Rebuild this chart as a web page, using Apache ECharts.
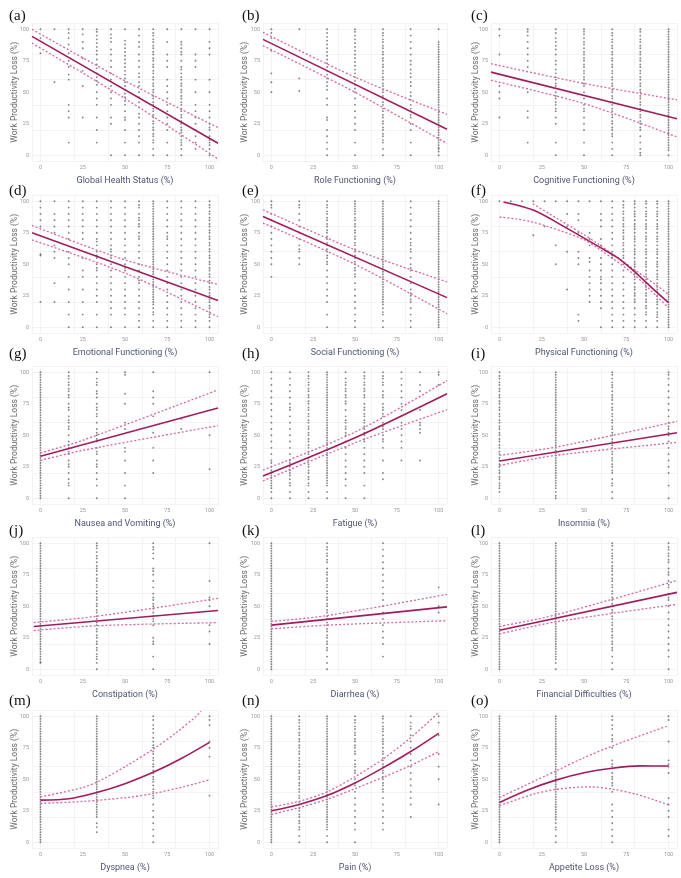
<!DOCTYPE html>
<html><head><meta charset="utf-8">
<script src="https://cdn.jsdelivr.net/npm/echarts@6/dist/echarts.min.js"></script>
<style>html,body{margin:0;padding:0;background:#fff}#c{width:681px;height:878px}</style>
</head><body><div id="c"></div>
<script>
const yTickValues = [0, 25, 50, 75, 100];
const minorTickValues = [-2.5, 12.5, 37.5, 62.5, 87.5, 102.5];
const panelLabels = ['(a)','(b)','(c)','(d)','(e)','(f)','(g)','(h)','(i)','(j)','(k)','(l)','(m)','(n)','(o)'];
const xNames = ['Global Health Status (%)','Role Functioning (%)','Cognitive Functioning (%)',
  'Emotional Functioning (%)','Social Functioning (%)','Physical Functioning (%)',
  'Nausea and Vomiting (%)','Fatigue (%)','Insomnia (%)',
  'Constipation (%)','Diarrhea (%)','Financial Difficulties (%)',
  'Dyspnea (%)','Pain (%)','Appetite Loss (%)'];
const yName = 'Work Productivity Loss (%)';

// scatter: [x level, [y values]]
const ptsA = [[0,[100,93,81]],[8.3,[100,58]],[16.7,[100,97,93,88,81,75,70,64,60,40,35,30,10]],[25,[100,96,90,85,77,67,55,30]],
 [33.3,[100,98,95,92,89,86,83,80,76,72,69,65,62,59,56,50,45,40,30,20,10]],[41.7,[100,96,93,90,84,80,75,70,65,60,55,50,45,40,30,25,0]],
 [50,[100,91,88,85,82,79,76,73,70,67,64,61,58,55,52,49,46,43,40,35,30,28,20,10,0]],[58.3,[100,95,90,86,80,75,70,65,62,58,55,50,46,42,38,33,30,25,20,15,10,0]],
 [66.7,[100,97,95,92,90,87,85,82,80,77,75,72,70,67,65,62,60,57,55,52,50,47,45,42,40,37,35,32,30,27,25,22,20,17,15,12,10,5,0]],
 [75,[100,90,80,75,70,60,55,50,45,40,35,30,25,20,10,0]],
 [83.3,[100,90,88,85,82,80,75,70,68,65,62,60,57,55,52,50,47,45,42,40,37,35,32,30,27,25,22,20,18,15,12,10,8,5,0]],
 [91.7,[100,80,75,70,60,50,40,35,30,25,20,15,10,5]],[100,[100,90,85,80,60,50,40,35,30,25,22,20,15,12,10,8,5,0]]];
const ptsB = [[0,[100,97,93,83,65,58,50]],[16.7,[100,61,51]],
 [33.3,[100,97,94,91,88,85,82,79,76,73,70,67,64,61,58,55,52,45,40,30,28,20,15,10,5,0]],
 [50,[100,98,95,92,89,86,83,80,77,74,71,68,65,62,59,56,53,50,45,40,35,30,25,20,10,0]],
 [66.7,[100,97,95,92,90,87,85,82,80,77,75,72,70,67,65,62,60,57,55,52,50,47,45,42,40,37,35,32,30,27,25,22,20,17,15,12,10,5,0]],
 [83.3,[100,95,90,85,80,75,72,68,65,62,58,55,50,47,44,40,37,35,32,30,25,20,10,0]],
 [100,[100,90,88,86,84,82,80,78,76,74,72,70,68,66,64,62,60,58,56,54,52,50,48,46,44,42,40,38,36,34,32,30,28,26,24,22,20,18,16,14,12,10,8,6,5,3,0]]];
const ptsC = [[0,[100,95,80,55,50,45,30]],[16.7,[100,98,95,90,85,80,75,70,50,35,30,10]],
 [33.3,[100,97,93,90,87,84,80,75,72,68,65,62,60,57,55,50,47,45,42,40,37,35,30,25,10,0]],
 [50,[100,98,96,93,90,88,85,82,80,77,75,72,70,67,65,62,60,57,55,50,45,40,37,35,30,25,20,10,0]],
 [66.7,[100,97,95,92,90,87,85,82,80,77,75,72,70,67,65,62,60,57,55,52,50,47,45,42,40,37,35,32,30,27,25,22,20,17,15,10,5,0]],
 [83.3,[100,98,95,92,90,87,85,82,80,77,75,72,70,67,65,62,60,57,55,52,50,47,45,42,40,37,35,32,30,27,25,22,20,15,10,5,2,0]],
 [100,[100,98,96,94,92,90,88,86,84,82,80,78,76,74,72,70,68,66,64,62,60,58,56,54,52,50,48,46,44,42,40,38,36,34,32,30,28,26,24,22,20,18,16,14,12,10,8,6,4,0]]];
const ptsD = [[0,[100,95,90,85,80,58,57,20]],[8.3,[100,90,85,80,75,65,60,55,35,20]],[16.7,[100,95,90,85,80,75,70,60,55,50,40,30,20,10,0]],
 [25,[100,95,90,85,80,75,70,55,45,40,30,20,10,0]],[33.3,[100,95,90,85,80,75,70,68,65,60,57,55,50,47,45,40,35,30,25,20,10,0]],
 [41.7,[100,95,90,85,80,75,70,65,62,60,57,55,50,45,40,35,30,25,20,15,10,0]],[50,[100,95,90,85,80,75,70,65,60,55,50,47,45,40,35,30,25,20,15,10,0]],
 [58.3,[100,97,95,90,87,85,82,80,75,72,70,65,60,55,50,45,40,37,35,30,25,20,15,10,5,0]],
 [66.7,[100,98,96,94,92,90,88,86,84,82,80,78,76,74,72,70,68,66,64,62,60,58,56,54,52,50,48,46,44,42,40,38,36,34,32,30,28,26,24,22,20,18,15,12,10,5,0]],
 [75,[100,95,90,85,80,75,72,70,65,60,55,50,45,40,35,30,25,20,15,10,5,0]],[83.3,[100,95,90,85,80,75,70,65,60,55,50,45,40,35,30,25,20,15,10,5,0]],
 [91.7,[100,95,90,85,80,75,70,65,60,55,50,45,40,35,30,25,20,15,10,5,0]],
 [100,[100,97,95,92,90,87,85,82,80,77,75,72,70,67,65,62,60,57,55,52,50,47,45,42,40,37,35,32,30,27,25,22,20,17,15,12,10,8,5,0]]];
const ptsE = [[0,[100,97,95,90,85,80,75,70,65,60,55,50,40]],[16.7,[100,97,95,90,85,80,75,70,65,62,60,55,50]],
 [33.3,[100,97,95,92,90,87,85,82,80,77,75,72,70,67,65,62,60,57,55,52,50,45,40,35,30,25,20,10,0]],
 [50,[100,98,96,94,92,90,87,85,82,80,77,75,72,70,67,65,62,60,57,55,52,50,47,45,42,40,35,30,25,20,15,10,5,0]],
 [66.7,[100,98,96,94,92,90,88,86,84,82,80,78,76,74,72,70,68,66,64,62,60,58,56,54,52,50,48,46,44,42,40,38,36,34,32,30,28,26,24,22,20,18,15,12,10,5,0]],
 [83.3,[100,95,90,85,80,75,70,67,65,62,60,55,50,47,45,40,35,30,27,25,22,20,15,10,5,0]],
 [100,[100,98,96,94,92,90,88,86,84,82,80,78,76,74,72,70,68,66,64,62,60,58,56,54,52,50,48,46,44,42,40,38,36,34,32,30,28,26,24,22,20,18,16,14,12,10,8,6,4,2,0]]];
const ptsF = [[0,[100]],[6.7,[100]],[13.3,[100]],[20,[100,73]],[26.7,[100,80]],[33.3,[100,65,50]],[40,[100,90,80,60,30]],
 [46.7,[100,90,85,75,60,55,50,10,5]],[53.3,[100,75,70,65,55,52,45,40,35,30,25,20]],
 [60,[100,90,85,80,70,65,55,50,45,40,38,35,30,25,20,15,0]],
 [66.7,[100,95,90,85,80,75,70,65,60,57,55,50,45,40,35,30,25,20,15,10,5,0]],
 [73.3,[100,97,95,92,90,87,85,82,80,77,75,72,70,67,65,62,60,57,55,50,45,40,35,30,25,20,15,10,5,0]],
 [80,[100,98,95,92,90,88,85,82,80,78,75,72,70,68,65,62,60,58,55,52,50,48,45,42,40,38,35,32,30,27,25,22,20,15,10,5,0]],
 [86.7,[100,98,95,92,90,88,85,82,80,78,75,72,70,68,65,62,60,58,55,52,50,48,45,42,40,38,35,32,30,27,25,22,20,17,15,12,10,5,0]],
 [93.3,[100,98,95,92,90,88,85,82,80,78,75,72,70,68,65,62,60,58,55,52,50,48,45,42,40,38,35,32,30,28,25,22,20,18,15,12,10,8,5,0]],
 [100,[100,98,96,94,92,90,88,86,84,82,80,78,76,74,72,70,68,66,64,62,60,58,56,54,52,50,48,46,44,42,40,38,36,34,32,30,28,26,24,22,20,18,16,14,12,10,8,6,4,2,0]]];
const ptsG = [[0,[100,98,96,94,92,90,88,86,84,82,80,78,76,74,72,70,68,66,64,62,60,58,56,54,52,50,48,46,44,42,40,38,36,34,32,30,28,26,24,22,20,18,16,14,12,10,8,6,4,2,0]],
 [16.7,[100,97,95,92,90,87,85,82,80,75,72,70,65,62,60,57,55,50,45,42,40,37,35,30,27,25,20,15,12,10,0]],
 [33.3,[100,95,92,90,85,83,80,75,72,70,67,65,60,55,52,50,47,45,40,37,35,30,27,25,20,15,10,0]],
 [50,[100,98,83,75,60,55,40,37,30,20,10,0]],[66.7,[100,85,80,75,65,52,40,30,20]],[83.3,[63,55]],[100,[100,50,23]]];
const ptsH = [[0,[100,95,90,85,80,75,70,65,60,55,50,45,40,35,30,28,25,22,20,18,16,14,12,10,8,5,0]],
 [11.1,[100,95,90,85,80,75,72,70,65,60,55,50,45,40,35,30,28,25,22,20,18,15,12,10,5,0]],
 [22.2,[100,97,95,92,90,87,85,82,80,77,75,72,70,67,65,62,60,57,55,52,50,47,45,42,40,37,35,32,30,27,25,22,20,17,15,12,10,5,0]],
 [33.3,[100,98,96,94,92,90,88,86,84,82,80,78,76,74,72,70,68,66,64,62,60,58,56,54,52,50,48,46,44,42,40,38,36,34,32,30,28,26,24,22,20,18,16,14,12,10,5,0]],
 [44.4,[100,95,92,90,87,85,82,80,77,75,70,65,62,60,57,55,52,50,45,40,35,30,25,20,15,10,0]],
 [55.6,[100,97,95,92,90,87,85,82,80,75,72,70,67,65,62,60,57,55,52,50,47,45,40,35,30,25,20,10,0]],
 [66.7,[100,97,95,92,90,85,82,80,75,72,70,67,65,60,57,55,50,47,45,40,30,20,15]],
 [77.8,[100,95,90,85,80,75,70,65,60,55,50,45,40,30]],[88.9,[100,90,85,70,60,58,55,52,30]],[100,[100,98,90]]];
const ptsI = [[0,[100,97,95,92,90,87,85,82,80,77,75,72,70,67,65,62,60,57,55,52,50,47,45,42,40,37,35,32,30,27,25,22,20,17,15,12,10,8,5]],
 [33.3,[100,98,96,94,92,90,88,86,84,82,80,78,76,74,72,70,68,66,64,62,60,58,56,54,52,50,48,46,44,42,40,38,36,34,32,30,28,26,24,22,20,18,16,14,12,10,8,5,2,0]],
 [66.7,[100,98,95,92,90,88,85,82,80,78,75,72,70,67,65,62,60,57,55,52,50,47,45,42,40,37,35,32,30,27,25,22,20,15,12,10,5,0]],
 [100,[100,98,95,90,85,80,75,70,65,60,57,55,52,50,45,40,35,30,25,20,10,0]]];
const ptsJ = [[0,[100,98,96,94,92,90,88,86,84,82,80,78,76,74,72,70,68,66,64,62,60,58,56,54,52,50,48,46,44,42,40,38,36,34,32,30,28,26,24,22,20,18,16,14,12,10,8,6,5]],
 [33.3,[100,98,96,93,90,88,85,82,80,78,75,72,70,67,65,62,60,57,55,52,50,47,45,42,40,37,35,32,30,27,25,22,20,17,15,12,10,8,5,0]],
 [66.7,[100,97,95,92,88,80,78,75,70,65,60,57,55,52,50,48,45,42,40,38,35,25,22,20,10,0]],[100,[100,70,57,55,50,35,30,20]]];
const ptsK = [[0,[100,98,96,94,92,90,88,86,84,82,80,78,76,74,72,70,68,66,64,62,60,58,56,54,52,50,48,46,44,42,40,38,36,34,32,30,28,26,24,22,20,18,16,14,12,10,8,6,4,2,0]],
 [33.3,[100,97,95,92,90,87,85,80,77,75,72,70,67,65,62,60,57,55,52,50,47,45,42,40,37,35,32,30,27,25,22,20,17,15,10,5,0]],
 [66.7,[100,95,90,85,80,75,70,65,60,55,50,45,40,35,30,25,20,10]],[100,[65,50,45]]];
const ptsL = [[0,[100,98,96,94,92,90,88,86,84,82,80,78,76,74,72,70,68,66,64,62,60,58,56,54,52,50,48,46,44,42,40,38,36,34,32,30,28,26,24,22,20,18,16,14,12,10,8,6,4,2,0]],
 [33.3,[100,98,96,94,92,90,88,86,84,82,80,78,76,74,72,70,68,66,64,62,60,58,56,54,52,50,48,46,44,42,40,38,36,34,32,30,28,26,24,22,20,18,16,14,12,10,8,5,0]],
 [66.7,[100,98,95,92,90,88,85,82,80,78,75,72,70,67,65,62,60,57,55,52,50,47,45,42,40,37,35,32,30,27,25,22,20,17,15,10,5,0]],
 [100,[100,97,95,92,90,87,85,80,77,75,70,67,65,60,57,55,50,45,40,35,30,25,20,15,10,0]]];
const ptsM = [[0,[100,98,96,94,92,90,88,86,84,82,80,78,76,74,72,70,68,66,64,62,60,58,56,54,52,50,48,46,44,42,40,38,36,34,32,30,28,26,24,22,20,18,16,14,12,10,8,6,4,2,0]],
 [33.3,[100,98,96,94,92,90,88,86,84,82,80,78,76,74,72,70,68,66,64,62,60,58,56,54,52,50,48,46,44,42,40,38,36,34,32,30,28,26,24,22,20,15,12,8]],
 [66.7,[100,97,93,90,87,83,80,77,75,72,70,67,65,62,60,57,55,52,50,48,45,42,40,37,35,30,25,20,15,10,5,0]],[100,[100,97,93,80,75,68,37]]];
const ptsN = [[0,[100,98,96,94,92,90,88,86,84,82,80,78,76,74,72,70,68,66,64,62,60,58,56,54,52,50,48,46,44,42,40,38,36,34,32,30,28,26,24,22,20,18,16,14,12,10,8,6,4,2,0]],
 [16.7,[100,97,95,92,90,87,85,82,80,77,75,72,70,67,65,62,60,57,55,52,50,47,45,42,40,37,35,32,30,27,25,22,20,17,15,12,10,5,0]],
 [33.3,[100,98,96,94,92,90,88,86,84,82,80,78,76,74,72,70,68,66,64,62,60,58,56,54,52,50,48,46,44,42,40,38,36,34,32,30,28,26,24,22,20,18,16,14,12,10,5,0]],
 [50,[100,97,95,92,90,87,85,82,80,77,75,72,70,65,62,60,57,55,50,47,45,40,35,30,25,20,15,10,0]],
 [66.7,[100,98,95,92,90,88,85,82,80,78,75,72,70,67,65,62,60,57,55,52,50,47,45,42,40,35,30,25,20,15,10]],
 [83.3,[100,95,92,90,85,80,75,70,65,60,55,50,45,40,35,30,20]],[100,[100,95,85,70,60,50,30]]];
const ptsO = [[0,[100,98,96,94,92,90,88,86,84,82,80,78,76,74,72,70,68,66,64,62,60,58,56,54,52,50,48,46,44,42,40,38,36,34,32,30,28,26,24,22,20,18,16,14,12,10,8,6,4,2,0]],
 [33.3,[100,98,96,94,92,90,88,86,84,82,80,78,76,74,72,70,68,66,64,62,60,58,56,54,52,50,48,46,44,42,40,38,36,34,32,30,28,26,24,22,20,18,15,12,10,5,0]],
 [66.7,[100,97,93,90,85,82,80,75,65,62,60,55,52,50,47,45,40,30,25,20,15,10,5,0]],[100,[100,97,80,65,62,60,55,35,30,25,20,10,5]]];

// fitted curve and dotted bands: [x, y]
const fitA=[[-5,94.4],[105,9.5]], upA=[[-5,100],[50,59],[105,22]], loA=[[-5,89],[50,45],[105,-3]];
const fitB=[[-5,92],[105,20.6]], upB=[[-5,97.6],[50,62],[105,32.5]], loB=[[-5,87],[50,50],[105,9.3]];
const fitC=[[-5,66],[105,29]], upC=[[-5,72.7],[50,57],[105,44]], loC=[[-5,59.5],[50,41],[105,14.5]];
const fitD=[[-5,75],[105,21.3]], upD=[[-5,80.8],[50,53.5],[105,34]], loD=[[-5,69.3],[50,43],[105,8.3]];
const fitE=[[-5,88],[105,23.5]], upE=[[-5,93.3],[50,61.5],[105,36]], loE=[[-5,82.7],[50,50],[105,10.7]];
const fitF=[[2.4,99.5],[20,93],[40,78.5],[60,63],[70,55],[80,44],[90,31.5],[100,19.5]];
const upF=[[19.7,98],[29.6,90],[49.3,74],[59,65.5],[79,46.5],[92.7,33.5],[100,26]];
const loF=[[0,87.5],[9.9,86],[19.7,83.5],[29.6,79.5],[49.3,70],[59,62],[79,42.5],[92.7,25],[100,15.5]];
const fitG=[[0,33.4],[105,71.6]], upG=[[0,36],[25,46],[105,86]], loG=[[0,30],[25,38],[105,57.6]];
const fitH=[[-5,17.6],[50,48],[105,83]], upH=[[-5,22.4],[50,52.5],[105,93.4]], loH=[[-5,13.7],[50,44],[105,70.3]];
const fitI=[[0,29.5],[105,52]], upI=[[0,34],[33,40.5],[105,61]], loI=[[0,26],[33,34],[105,44.3]];
const fitJ=[[-4,33.9],[105,46.6]], upJ=[[-4,37],[33,42],[105,56.3]], loJ=[[-4,30.7],[33,34.5],[105,37]];
const fitK=[[0,35],[105,49.5]], upK=[[0,38],[33,42.5],[105,59.5]], loK=[[0,32],[33,35],[105,38.5]];
const fitL=[[0,31],[105,61]], upL=[[0,34],[33,43],[105,70.5]], loL=[[0,28],[33,37.5],[105,51.5]];
const fitM=[[0,33.4],[16.7,34.5],[33.3,39.5],[50,46.5],[66.7,55.5],[83.3,66.5],[100,79.3]];
const upM=[[0,36],[25.3,43.5],[35,48.8],[51,60.7],[66.8,74],[80.6,87.3],[92.5,100.5],[95,104]];
const loM=[[0,30.8],[25.3,32.4],[51,35.5],[66.8,38.7],[84.6,44],[100,49.6]];
const fitN=[[0,25],[16.7,30],[33.3,37],[50,47],[66.7,59],[83.3,72],[100,86.5]];
const upN=[[0,28],[16.7,32.5],[33.3,40],[50,52],[66.7,66],[83.3,83],[100,103]];
const loN=[[0,22],[16.7,27.5],[33.3,34],[50,42.5],[66.7,51.5],[83.3,61],[100,72]];
const fitO=[[0,31.6],[16.7,41.5],[33.3,49.3],[50,55.2],[66.7,58.8],[83.3,60.6],[100,60.5]];
const upO=[[0,35.5],[33.7,56.8],[49.5,66.8],[67.3,76.7],[100,92.6]];
const loO=[[0,29],[19.8,38],[33.7,42],[53.5,44],[67.3,42],[81.2,38],[100,29.7]];

const scatters=[ptsA,ptsB,ptsC,ptsD,ptsE,ptsF,ptsG,ptsH,ptsI,ptsJ,ptsK,ptsL,ptsM,ptsN,ptsO];
const fits=[fitA,fitB,fitC,fitD,fitE,fitF,fitG,fitH,fitI,fitJ,fitK,fitL,fitM,fitN,fitO];
const ups=[upA,upB,upC,upD,upE,upF,upG,upH,upI,upJ,upK,upL,upM,upN,upO];
const los=[loA,loB,loC,loD,loE,loF,loG,loH,loI,loJ,loK,loL,loM,loN,loO];

// layout
const colLeft=[32,263,491], colWidth=[186,184,186];
const rowTop=[23,195,366,537,710], rowH=138.5;
const labelTop=[4,179,342,519,689], labelLeft=[4,237,466];
const yNameGap=[13,14,11];

const grid=[], xAxis=[], yAxis=[], series=[], title=[];
const gridColor='#ebebeb', minorColor='#f5f5f5';
for(let i=0;i<15;i++){
  const c=i%3, r=Math.floor(i/3);
  grid.push({left:colLeft[c], top:rowTop[r], width:colWidth[c], height:rowH, containLabel:false});
  xAxis.push({type:'value', gridIndex:i, min:-5, max:105,
    name:xNames[i], nameLocation:'middle', nameGap:15, nameMoveOverlap:false,
    nameTextStyle:{fontSize:9, color:'#4f5573', fontFamily:'Roboto'},
    axisLine:{show:false}, axisTick:{show:false},
    axisLabel:{fontSize:5.5, color:'#9a9a9a', margin:3, customValues: yTickValues, fontFamily:'Roboto'},
    splitLine:{show:true, lineStyle:{color:gridColor, width:0.7}, customValues: yTickValues}
  });
  yAxis.push({type:'value', gridIndex:i, min:-5, max:105,
    name:yName, nameLocation:'middle', nameGap:yNameGap[c], nameRotate:90, nameMoveOverlap:false,
    nameTextStyle:{fontSize:8.5, color:'#6a6a6a', fontFamily:'Roboto'},
    axisLine:{show:false}, axisTick:{show:false},
    axisLabel:{fontSize:5.5, color:'#9a9a9a', margin:3, customValues: yTickValues, fontFamily:'Roboto'},
    splitLine:{show:true, lineStyle:{color:gridColor, width:0.7}, customValues: yTickValues}
  });
}
// hidden helper axes for minor grid lines
for(let i=0;i<15;i++){
  xAxis.push({type:'value', gridIndex:i, min:-5, max:105, axisLine:{show:false}, axisTick:{show:false}, axisLabel:{show:false},
    splitLine:{show:true, lineStyle:{color:minorColor, width:0.6}, customValues: minorTickValues}});
  yAxis.push({type:'value', gridIndex:i, min:-5, max:105, axisLine:{show:false}, axisTick:{show:false}, axisLabel:{show:false},
    splitLine:{show:true, lineStyle:{color:minorColor, width:0.6}, customValues: minorTickValues}});
}
for(let i=0;i<15;i++){
  const c=i%3, r=Math.floor(i/3);
  const pts=[];
  scatters[i].forEach(([x,ys])=>ys.forEach(y=>pts.push([x,y])));
  series.push({type:'scatter', xAxisIndex:i, yAxisIndex:i, data:pts, symbolSize:1.9,
    itemStyle:{color:'rgba(40,40,40,0.7)'}, silent:true, animation:false, z:2});
  [ups[i], los[i]].forEach(d=>series.push({type:'line', xAxisIndex:i, yAxisIndex:i, data:d, showSymbol:false,
    smooth:0.3, lineStyle:{color:'#d8679f', width:1.3, type:[2,2]}, animation:false, silent:true, z:3}));
  series.push({type:'line', xAxisIndex:i, yAxisIndex:i, data:fits[i], showSymbol:false, smooth:0.3,
    lineStyle:{color:'#a01c5e', width:1.6}, animation:false, silent:true, z:4});
  title.push({text:panelLabels[i], left:labelLeft[c], top:labelTop[r],
    textStyle:{fontFamily:'Liberation Serif', fontSize:15, fontWeight:'normal', color:'#111'}});
}
const chart=echarts.init(document.getElementById('c'), null, {renderer:'canvas'});
chart.setOption({animation:false, backgroundColor:'#fff', title, grid, xAxis, yAxis, series});
</script></body></html>
